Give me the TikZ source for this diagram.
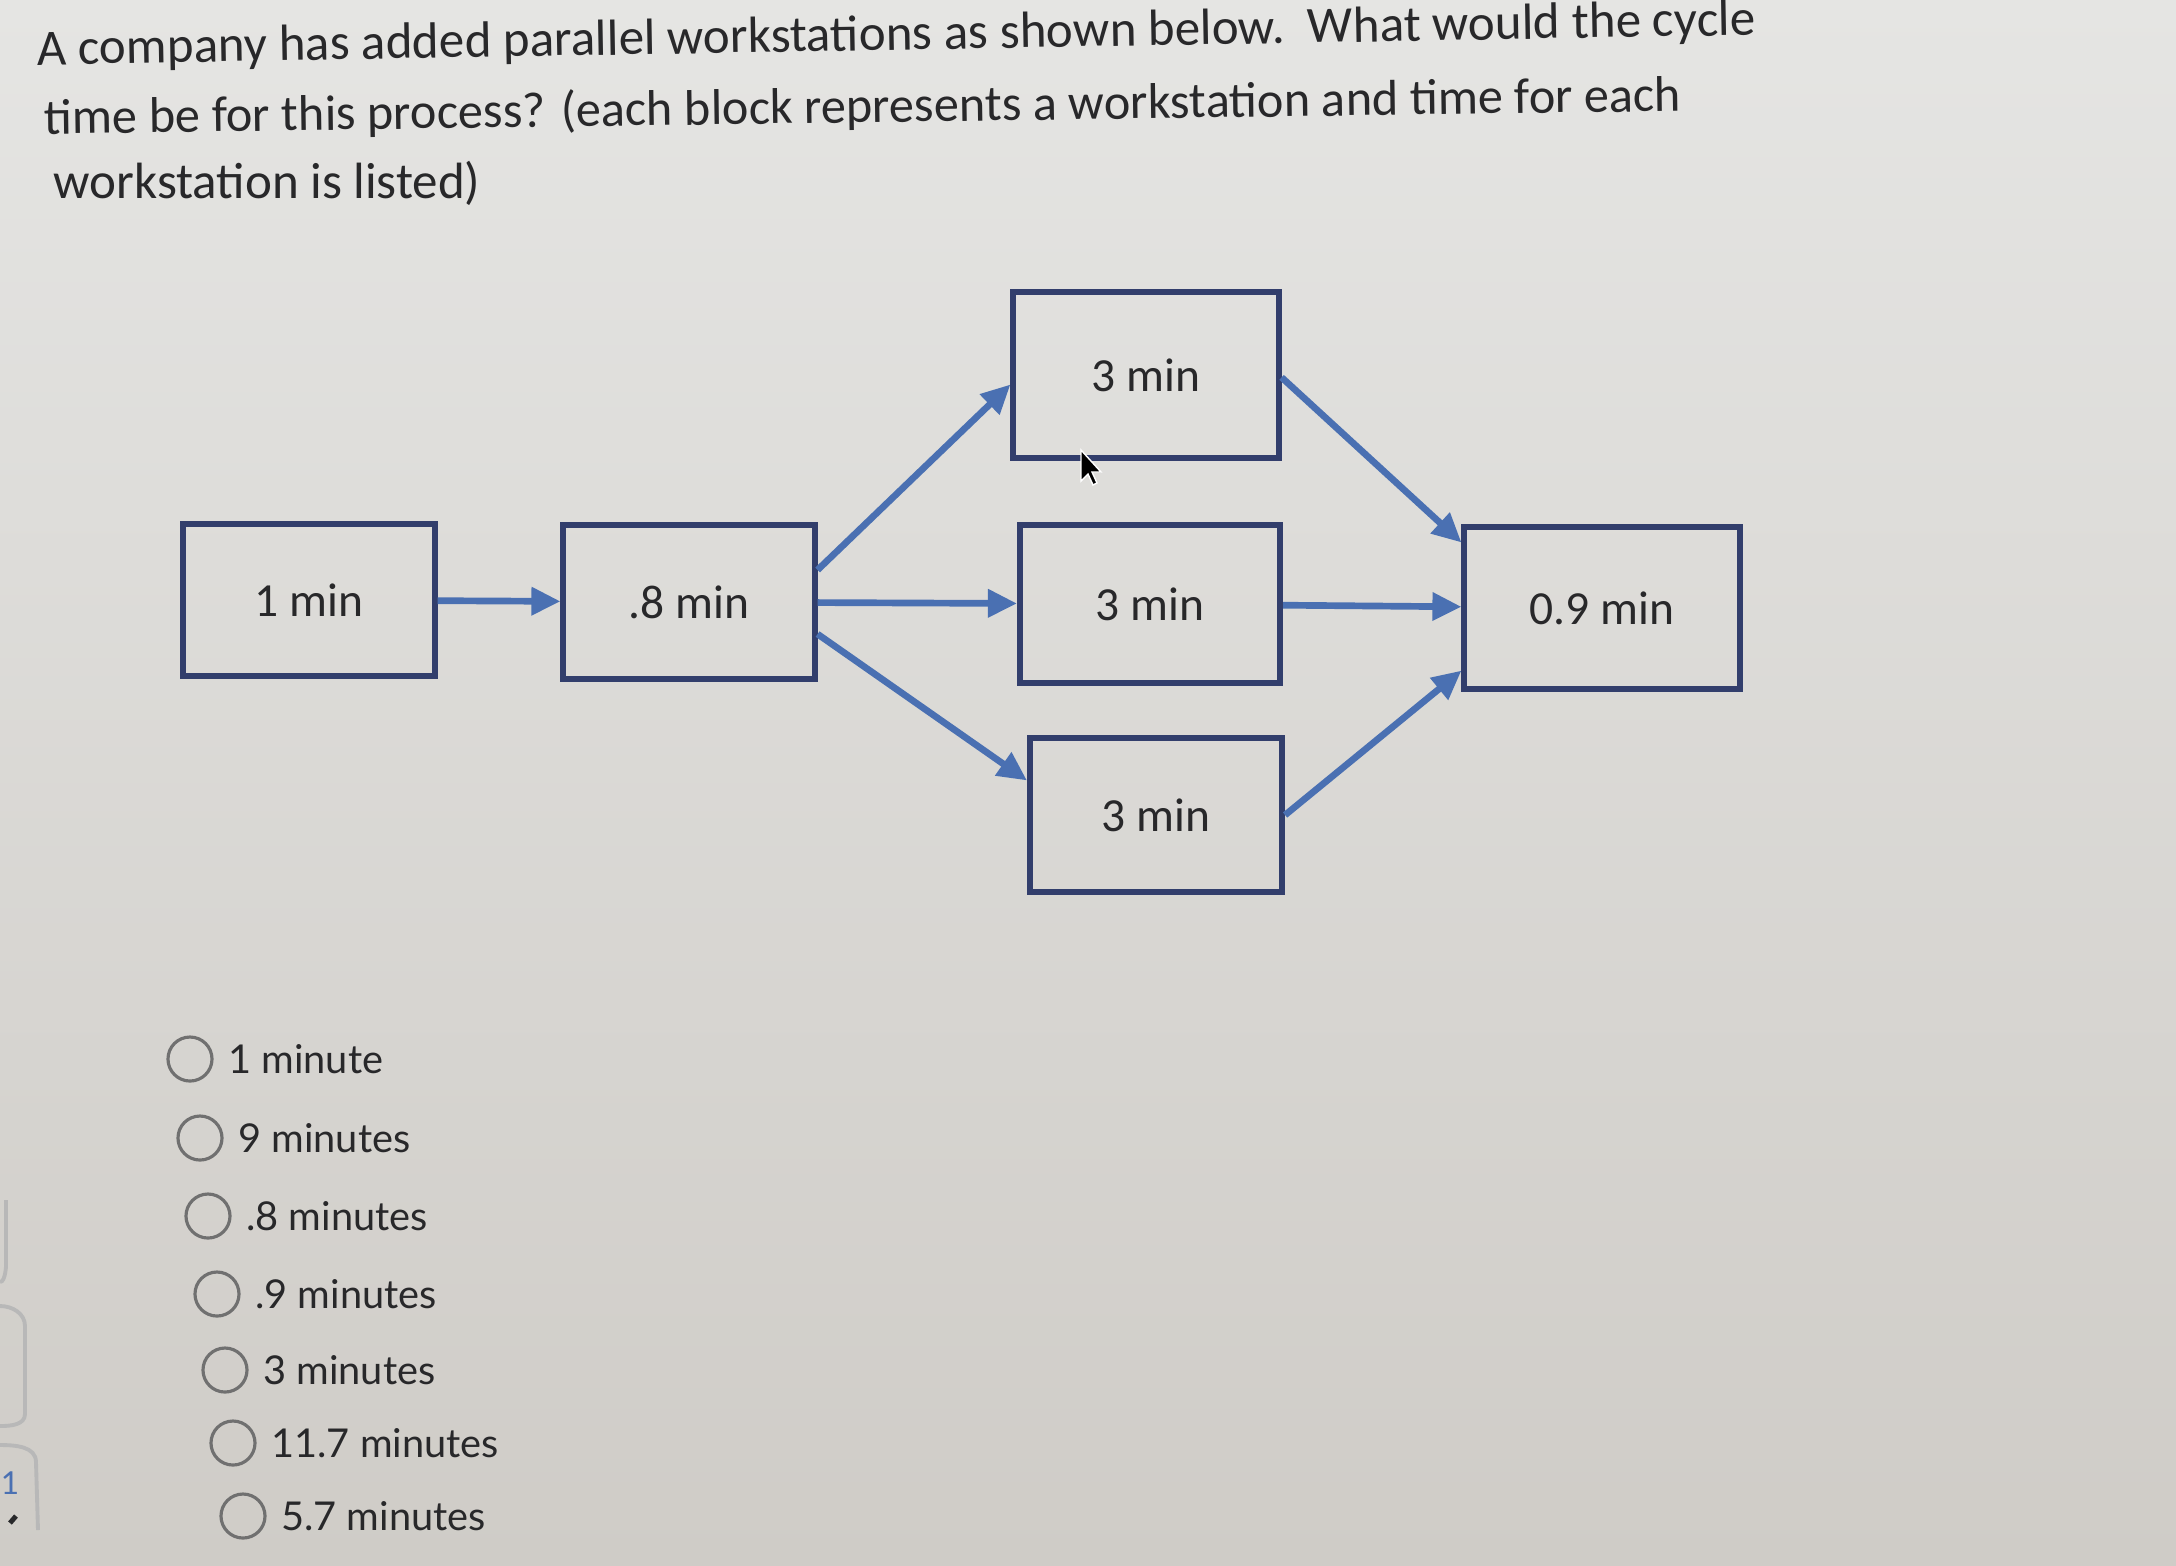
\documentclass[tikz,border=0pt]{standalone}
\usepackage{fontspec}
\setmainfont{Carlito}
\newfontfamily\optfont{Lato}
\usetikzlibrary{positioning,arrows.meta}
\definecolor{boxblue}{RGB}{50,62,108}
\definecolor{flowblue}{RGB}{74,112,178}
\definecolor{inkgray}{RGB}{40,40,42}
\definecolor{ringgray}{RGB}{112,112,112}
\definecolor{edgegray}{RGB}{184,184,184}
\definecolor{screentop}{RGB}{229,229,227}
\definecolor{screenbottom}{RGB}{207,204,199}

\begin{document}
\begin{tikzpicture}[x=0.01cm, y=-0.01cm, node distance = 0.14cm]
    \tikzstyle{station} = [draw=boxblue, line width=1.7pt, minimum width=2.55cm, minimum height=1.55cm, text=inkgray, font=\fontsize{13.5}{16}\selectfont]
    \tikzstyle{flow} = [draw=flowblue, line width=1.9pt, -{Triangle[length=0.29cm, width=0.27cm]}]
    \tikzstyle{radio} = [circle, draw=ringgray, line width=0.9pt, minimum size=0.44cm, inner sep=0pt]
    \tikzstyle{answer} = [text=inkgray, font=\optfont\fontsize{11.3}{14}\selectfont, inner sep=0pt]
    \tikzstyle{question} = [text=inkgray, font=\fontsize{14.5}{18}\selectfont, anchor=base west, inner sep=0pt, rotate=1]

    % screen
    \shade [top color=screentop, bottom color=screenbottom] (0,0) rectangle (2176,1565);
    \useasboundingbox (0,0) rectangle (2176,1565);

    % question text
    \node [question] (Q1) at (37,65) {A company has added parallel workstations as shown below.\ \ What would the cycle};
    \node [question, rotate=-0.2, font=\fontsize{14.3}{18}\selectfont] (Q2) at (44,134) {time be for this process? (each block represents a workstation and time for each};
    \node [question, rotate=-1] (Q3) at (53,198) {workstation is listed)};

    % workstations
    \node [station, minimum width=2.51cm, minimum height=1.51cm] (W1) at (309,600) {1 min};
    \node [station, minimum width=2.51cm, minimum height=1.53cm] (W2) at (689,602) {.8 min};
    \node [station, minimum width=2.65cm, minimum height=1.65cm] (W3) at (1146,375) {3 min};
    \node [station, minimum width=2.60cm, minimum height=1.57cm] (W4) at (1150,604) {3 min};
    \node [station, minimum width=2.52cm, minimum height=1.53cm] (W5) at (1156,815) {3 min};
    \node [station, minimum width=2.75cm, minimum height=1.61cm] (W6) at (1602,608) {0.9 min};

    \foreach \s/\t in {W1/W2, W2.14/W3.184, W2/W4, W2.346/W5.165, W3.359/W6.155, W4/W6, W5.east/W6.204}
        \draw [flow] (\s) -- (\t);

    % mouse pointer
    \fill [black, draw=white, line width=0.4pt] (1081,450) -- ++(0,31) -- ++(7,-7) -- ++(5,11) -- ++(4,-2) -- ++(-5,-11) -- ++(9,0) -- cycle;

    % answers
    \foreach \i/\x/\y/\txt in {1/190/1059/1 minute, 2/200/1138/9 minutes, 3/208/1216/.8 minutes, 4/217/1294/.9 minutes, 5/225/1370/3 minutes, 6/233/1443/11.7 minutes, 7/243/1516/5.7 minutes} {
        \node [radio] (R\i) at (\x,\y) {};
        \node [answer, right = of R\i] (A\i) {\txt};
    }

    % edge of the side panel
    \draw [edgegray, line width=1.1pt] (6,1200) -- (6,1268) to[out=90, in=0] (0,1282);
    \draw [edgegray, line width=1.1pt] (0,1306) to[out=0, in=90] (25,1326) -- (25,1414) to[out=-90, in=0] (0,1426);
    \draw [edgegray, line width=1.1pt] (0,1445) to[out=0, in=90] (36,1462) -- (38,1530);
    \node [text=flowblue, font=\optfont\fontsize{9}{10}\selectfont, inner sep=0pt] (P1) at (10,1483) {1};
    \draw [inkgray, line width=1.4pt] (10,1523) -- (16,1516);
\end{tikzpicture}
\end{document}
